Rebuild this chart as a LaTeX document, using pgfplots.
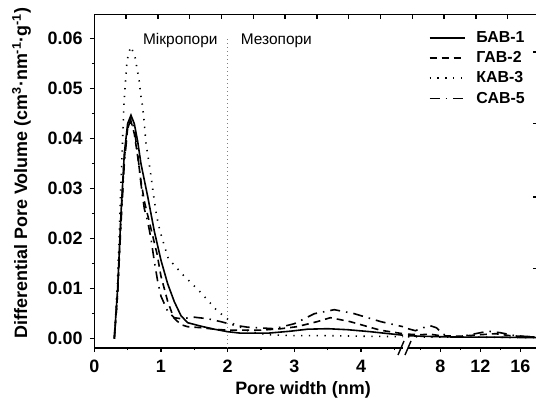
\documentclass[border=0pt]{standalone}
\usepackage{pgfplots}
\pgfplotsset{compat=1.18}
\usepackage{fontspec}
\setmainfont{Liberation Sans}
\pgfplotstableread{
x y
0.30 0.0000
0.35 0.0100
0.40 0.0250
0.45 0.0370
0.50 0.0430
0.55 0.0447
0.60 0.0430
0.65 0.0395
0.70 0.0350
0.80 0.0285
0.90 0.0215
1.00 0.0157
1.10 0.0110
1.20 0.0074
1.30 0.0046
1.40 0.0032
1.60 0.0025
1.80 0.0019
2.00 0.0014
2.20 0.0011
2.60 0.0011
2.94 0.0015
3.20 0.0019
3.50 0.0020
3.80 0.0018
4.14 0.0014
4.63 0.0007
}\bavA
\pgfplotstableread{
x y
0.30 0.0000
0.35 0.0090
0.40 0.0240
0.45 0.0360
0.50 0.0420
0.55 0.0435
0.60 0.0410
0.65 0.0365
0.70 0.0315
0.75 0.0275
0.85 0.0220
0.94 0.0170
1.00 0.0125
1.10 0.0075
1.19 0.0042
1.30 0.0028
1.40 0.0024
1.60 0.0022
1.80 0.0019
2.00 0.0017
2.50 0.0017
2.80 0.0020
3.04 0.0024
3.34 0.0034
3.54 0.0042
3.84 0.0034
4.29 0.0017
4.63 0.0010
}\gavA
\pgfplotstableread{
x y
0.30 0.0000
0.35 0.0120
0.41 0.0347
0.445 0.0470
0.46 0.0500
0.486 0.0547
0.51 0.0570
0.55 0.0584
0.61 0.0564
0.645 0.0537
0.675 0.0514
0.695 0.0488
0.725 0.0464
0.745 0.0438
0.775 0.0390
0.835 0.0340
0.885 0.0290
0.935 0.0245
0.985 0.0215
1.11 0.0160
1.335 0.0127
1.585 0.0094
1.835 0.0057
2.085 0.0030
2.335 0.0014
2.60 0.0008
3.00 0.0006
3.50 0.0006
4.00 0.0005
4.63 0.0004
}\kavA
\pgfplotstableread{
x y
0.30 0.0000
0.35 0.0090
0.40 0.0230
0.45 0.0350
0.50 0.0420
0.55 0.0440
0.60 0.0420
0.65 0.0370
0.70 0.0310
0.75 0.0260
0.80 0.0235
0.85 0.0200
0.90 0.0155
0.95 0.0115
1.00 0.0085
1.10 0.0055
1.20 0.0042
1.30 0.0040
1.50 0.0043
1.70 0.0040
1.90 0.0034
2.10 0.0027
2.30 0.0023
2.70 0.0020
3.00 0.0030
3.30 0.0050
3.60 0.0058
3.90 0.0050
4.30 0.0034
4.63 0.0024
}\savA
\pgfplotstableread{
x y
4.77 0.0006
6.0 0.0005
8.0 0.0004
10.0 0.0003
12.0 0.0003
14.0 0.0003
17.7 0.0002
}\bavB
\pgfplotstableread{
x y
4.77 0.0009
6.0 0.0008
7.0 0.0009
8.0 0.0006
10.0 0.0005
12.0 0.0008
13.5 0.0010
15.0 0.0006
17.7 0.0003
}\gavB
\pgfplotstableread{
x y
4.77 0.0004
8.0 0.0003
12.0 0.0003
17.7 0.0002
}\kavB
\pgfplotstableread{
x y
4.77 0.0020
5.5 0.0016
6.3 0.0022
7.0 0.0026
7.6 0.0022
8.3 0.0009
9.0 0.0003
10.0 0.0004
11.5 0.0010
12.8 0.0015
14.0 0.0012
15.5 0.0006
17.7 0.0003
}\savB
\tikzset{
  solidS/.style={line width=1.6bp},
  dashS/.style={line width=1.6bp, dash pattern=on 7bp off 5bp},
  dotS/.style={line width=1.6bp, dash pattern=on 1.3bp off 6.5bp},
  dashdotS/.style={line width=1.6bp, dash pattern=on 10bp off 6bp on 1.5bp off 6bp},
}
\pgfplotsset{
  common/.style={
    scale only axis, height=333bp, ymin=-0.0018, ymax=0.0648,
    anchor=south west, tick align=outside,
    major tick length=4.5bp, minor tick length=2.5bp,
    every tick/.style={line width=1.3bp, black},
    axis line style={line width=1.6bp},
    tick label style={font=\bfseries\fontsize{18}{18}\selectfont, inner sep=1bp},
    xticklabel shift=7bp, yticklabel shift=6bp,
    /pgf/number format/assume math mode=true,
    scaled x ticks=false, scaled y ticks=false,
    clip=false,
  },
}
\begin{document}
\begin{tikzpicture}
% frame: top and right lines
\begin{axis}[common, at={(94.3bp,50.3bp)}, width=442.7bp,
  xmin=0, xmax=13.92,
  axis x line*=top, axis y line*=right, tick align=inside,
  xtick={1,...,13}, xticklabels={},
  ytick={0.01404,0.02836,0.04304,0.05736}, yticklabels={},
  minor xtick={}, minor ytick={},
  legend cell align=left,
  legend style={draw=none, fill=none, at={(0.984,0.962)}, anchor=north east,
    font=\bfseries\fontsize{16}{16}\selectfont, row sep=3.6bp,
    /tikz/every odd column/.append style={column sep=9bp}},
  legend image code/.code={\draw[#1] (0bp,0bp) -- (35bp,0bp);},
]
\addlegendimage{solidS}
\addlegendentry{БАВ-1}
\addlegendimage{dashS}
\addlegendentry{ГАВ-2}
\addlegendimage{dotS}
\addlegendentry{КАВ-3}
\addlegendimage{dashdotS}
\addlegendentry{САВ-5}
\end{axis}
% left segment
\begin{axis}[common, at={(94.3bp,50.3bp)}, width=308.7bp,
  xmin=0, xmax=4.63,
  axis x line*=bottom, axis y line*=left,
  xtick={0,1,2,3,4}, minor xtick={0.5,1.5,2.5,3.5,4.5},
  ytick={0,0.01,0.02,0.03,0.04,0.05,0.06},
  minor ytick={0.005,0.015,0.025,0.035,0.045,0.055},
  yticklabel style={/pgf/number format/fixed, /pgf/number format/fixed zerofill,
    /pgf/number format/precision=2},
]
\addplot[gray, line width=1bp, dash pattern=on 1bp off 3bp] coordinates {(2,-0.0018) (2,0.0605)};
\addplot[solidS] table {\bavA};
\addplot[dashS] table {\gavA};
\addplot[dotS] table {\kavA};
\addplot[dashdotS] table {\savA};
\node[anchor=base, font=\fontsize{15.5}{15.5}\selectfont] at (axis cs:1.29,0.0588) {Мікропори};
\node[anchor=base, font=\fontsize{15.5}{15.5}\selectfont] at (axis cs:2.73,0.0588) {Мезопори};
\end{axis}
% right segment
\begin{axis}[common, at={(408bp,50.3bp)}, width=129bp,
  xmin=4.77, xmax=17.67,
  axis x line*=bottom, axis y line=none,
  xtick={8,12,16}, minor xtick={6,10,14},
]
\addplot[solidS] table {\bavB};
\addplot[dashS] table {\gavB};
\addplot[dotS] table {\kavB};
\addplot[dashdotS] table {\savB};
\end{axis}
% axis break marks
\fill[white] (403bp,47bp) rectangle (407.5bp,53bp);
\draw[line width=1.4bp] (398bp,43bp) -- (404bp,57bp);
\draw[line width=1.4bp] (405bp,43bp) -- (411bp,57bp);
% axis titles
\node[anchor=base, font=\bfseries\fontsize{18}{18}\selectfont] at (303bp,4bp) {Pore width (nm)};
\node[rotate=90, font=\bfseries\fontsize{18}{18}\selectfont] at (21.5bp,225bp)
  {Differential Pore Volume (cm\textsuperscript{3}·nm\textsuperscript{-1}·g\textsuperscript{-1})};
\pgfresetboundingbox
\useasboundingbox (0,0) rectangle (536bp,398bp);
\end{tikzpicture}
\end{document}
